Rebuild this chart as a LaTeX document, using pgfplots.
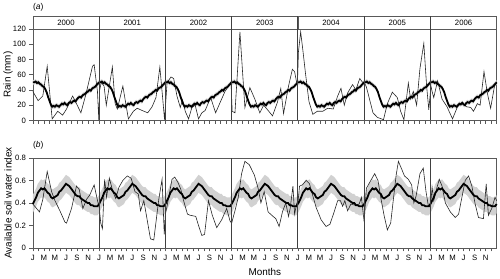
\documentclass[border=0pt]{standalone}
\usepackage{pgfplots}
\pgfplotsset{compat=1.18}
\usepackage{pgfplotstable}
\usepgfplotslibrary{fillbetween}
\usepackage{fontspec}
\setmainfont{Liberation Sans}

\pgfplotstableread{
m v lo hi
0.0 50 47 53
0.25 50 47 53
0.5 51 48 54
0.75 49 46 52
1.0 50 47 53
1.25 48 45 51
1.5 47 44 50
1.75 45 42 48
2.0 44 41 47
2.25 41 38 44
2.5 37 34 40
2.75 31 28 34
3.0 26 23 29
3.25 21 18 24
3.5 18 15 21
3.75 19 16 22
4.0 18 15 21
4.25 20 17 23
4.5 19 16 22
4.75 18 15 21
5.0 20 17 23
5.25 22 19 25
5.5 21 18 24
5.75 23 20 26
6.0 21 18 24
6.25 20 17 23
6.5 23 20 26
6.75 24 21 27
7.0 23 20 26
7.25 25 22 28
7.5 26 23 29
7.75 25 22 28
8.0 28 25 31
8.25 30 27 33
8.5 31 28 34
8.75 30 27 33
9.0 33 30 36
9.25 34 31 37
9.5 35 32 38
9.75 37 34 40
10.0 38 35 41
10.25 40 37 43
10.5 39 36 42
10.75 42 39 45
11.0 43 40 46
11.25 44 41 47
11.5 46 43 49
11.75 48 45 51
12.0 50 47 53
}\rainclim

\pgfplotstableread{
m v lo hi
0.0 0.39 0.31 0.47
0.3 0.42 0.34 0.50
0.6 0.45 0.37 0.53
0.9 0.49 0.41 0.57
1.2 0.51 0.43 0.59
1.5 0.53 0.45 0.61
1.8 0.52 0.44 0.60
2.1 0.53 0.45 0.61
2.4 0.51 0.43 0.59
2.7 0.49 0.41 0.57
3.0 0.48 0.40 0.56
3.3 0.45 0.37 0.53
3.6 0.44 0.36 0.52
3.9 0.45 0.37 0.53
4.2 0.46 0.38 0.54
4.5 0.47 0.39 0.55
4.8 0.50 0.42 0.58
5.1 0.51 0.43 0.59
5.4 0.53 0.45 0.61
5.7 0.55 0.47 0.63
6.0 0.57 0.49 0.65
6.3 0.56 0.48 0.64
6.6 0.55 0.47 0.63
6.9 0.53 0.45 0.61
7.2 0.51 0.43 0.59
7.5 0.49 0.41 0.57
7.8 0.47 0.39 0.55
8.1 0.46 0.38 0.54
8.4 0.46 0.38 0.54
8.7 0.44 0.36 0.52
9.0 0.43 0.35 0.51
9.3 0.42 0.34 0.50
9.6 0.41 0.33 0.49
9.9 0.40 0.32 0.48
10.2 0.40 0.32 0.48
10.5 0.38 0.30 0.46
10.8 0.38 0.30 0.46
11.1 0.37 0.29 0.45
11.4 0.37 0.29 0.45
11.7 0.37 0.29 0.45
12.0 0.39 0.31 0.47
}\soilclim

\definecolor{frame}{gray}{0.35}
\definecolor{band}{gray}{0.82}

\pgfplotsset{
  panel/.style={
    width=466bp, scale only axis, xmin=0, xmax=84, clip=false,
    axis line style={frame, line width=0.6bp},
    tick style={frame, line width=0.6bp},
    tick align=outside, major tick length=3.5bp, minor tick length=3.5bp,
    tick label style={font=\fontsize{7.8}{9}\selectfont, text=black},
    label style={font=\fontsize{8.5}{10}\selectfont},
    every axis y label/.style={at={(axis description cs:-0.0536,0.5)}, rotate=90, anchor=center},
    yticklabel style={/pgf/number format/assume math mode=true},
    xtick pos=bottom, ytick pos=left,
  },
}

\begin{document}
\begin{tikzpicture}
\path (0,0) rectangle (500bp,-277bp);

% ---------------- panel (a) ----------------
\begin{axis}[panel, at={(33bp,-29bp)}, anchor=north west, height=92bp,
  ymin=0, ymax=120, ytick={0,20,...,120}, ylabel={Rain (mm)},
  xtick={0,...,84}, xticklabels={}]
\pgfplotsinvokeforeach{0,...,6}{
  \addplot[name path=rh#1, draw=none, forget plot] table[x expr=\thisrow{m}+12*#1, y=hi]{\rainclim};
  \addplot[name path=rl#1, draw=none, forget plot] table[x expr=\thisrow{m}+12*#1, y=lo]{\rainclim};
  \addplot[band, forget plot] fill between[of=rh#1 and rl#1];
}
\addplot[black!85, line width=0.6bp] coordinates {
(0,38)(0.95,26)(1.8,32)(2.6,71)(3.5,2)(4.5,12)(5.4,7)(6.1,15)(7.2,32)(8.1,19)(8.7,10)(9.6,34)(10.8,71)(11.1,73)(11.7,38)(11.95,0)
(12.1,40)(12.4,50)(12.9,45)(13.3,20)(14.4,70)(14.9,22)(15.3,15)(16.3,45)(17.3,2)(18.2,12)(18.9,16)(19.8,13)(20.8,10)(21.6,18)(22.3,30)(23,70)(23.5,30)(23.85,1)
(24.3,49)(25,57)(25.5,55)(26.1,32)(26.7,17)(27.1,27)(27.6,12)(28.2,2)(28.8,17)(29.4,20)(30,2)(30.6,10)(31.2,13)(32.2,30)(33.1,10)(34.0,25)(34.8,38)(35.5,46)(35.9,48)
(36.1,12)(36.6,10)(37.5,116)(38.4,17)(39.3,43)(40.2,28)(41.1,10)(41.8,20)(42.5,14)(43.4,6)(44.3,24)(44.9,42)(45.4,9)(46.3,45)(47,67)(47.4,64)(47.9,45)
(48.1,90)(48.5,116)(48.9,92)(49.4,60)(50.0,25)(50.7,8)(51.5,12)(52.5,12)(53.4,16)(54.4,15)(55.2,32)(55.8,42)(56.4,20)(57,36)(57.9,47)(58.5,40)(59.2,55)(59.7,50)
(60,50)(60.4,44)(61,27)(61.6,10)(62.4,4)(63.5,1)(64.2,22)(65.1,37)(66,30)(66.6,12)(67.2,1)(68,49)(68.4,28)(68.9,38)(69.5,20)(70.1,68)(70.8,101)(71.3,46)(71.7,14)
(72.1,45)(72.3,38)(72.6,30)(73.3,52)(74.1,28)(75,18)(76,2)(76.9,18)(77.8,24)(78.5,18)(79.3,17)(79.8,12)(80.5,22)(81.0,20)(81.7,64)(82.3,36)(82.9,16)(83.6,45)(84,50)
};
\pgfplotsinvokeforeach{0,...,6}{
  \addplot[black, line width=1.8bp, forget plot] table[x expr=\thisrow{m}+12*#1, y=v]{\rainclim};
  \draw[frame, line width=0.6bp, fill=white] (axis cs:{12*#1},120) rectangle (axis cs:{12*#1+12},137);
  \node[font=\fontsize{7.8}{9}\selectfont] at (axis cs:{12*#1+6},128.5) {200#1};
}
\pgfplotsinvokeforeach{1,...,6}{
  \draw[black!75, line width=0.9bp] (axis cs:{12*#1},0) -- (axis cs:{12*#1},137);
}
\node[anchor=west, font=\fontsize{8.5}{10}\selectfont, inner sep=0pt] at (axis cs:0,148) {(\textit{a})};
\end{axis}

% ---------------- panel (b) ----------------
\begin{axis}[panel, at={(33bp,-158.7bp)}, anchor=north west, height=90.3bp,
  ymin=0, ymax=0.8, ytick={0,0.2,...,0.8}, ylabel={Available soil water index},
  yticklabel style={/pgf/number format/.cd, fixed, precision=1, fixed zerofill=false},
  xtick={0,2,...,82}, minor xtick={1,3,...,83},
  xticklabels={J,M,M,J,S,N,J,M,M,J,S,N,J,M,M,J,S,N,J,M,M,J,S,N,J,M,M,J,S,N,J,M,M,J,S,N,J,M,M,J,S,N},
  xlabel={Months},
  every axis x label/.style={at={(axis description cs:0.5,0)}, anchor=center, yshift=-24bp}]
\pgfplotsinvokeforeach{0,...,6}{
  \addplot[name path=sh#1, draw=none, forget plot] table[x expr=\thisrow{m}+12*#1, y=hi]{\soilclim};
  \addplot[name path=sl#1, draw=none, forget plot] table[x expr=\thisrow{m}+12*#1, y=lo]{\soilclim};
  \addplot[band, forget plot] fill between[of=sh#1 and sl#1];
}
\addplot[black!85, line width=0.6bp] coordinates {
(0,0.39)(1.2,0.32)(1.8,0.43)(2.6,0.68)(3.4,0.50)(4.0,0.42)(4.9,0.33)(5.8,0.23)(6.1,0.22)(7.0,0.35)(7.9,0.55)(8.4,0.52)(9.05,0.35)(9.7,0.43)(10.3,0.47)(11.1,0.56)(11.8,0.40)
(12,0.37)(12.3,0.22)(12.6,0.17)(13.0,0.61)(13.35,0.45)(13.85,0.62)(14.5,0.50)(15.0,0.44)(15.6,0.54)(16.3,0.60)(17.1,0.64)(17.8,0.62)(18.5,0.50)(19.1,0.48)(19.5,0.33)(20.1,0.42)(20.7,0.25)(21.3,0.08)(21.9,0.07)(22.8,0.43)(23.4,0.61)(23.8,0.12)
(24,0.30)(24.3,0.37)(25.2,0.61)(25.7,0.63)(26.3,0.58)(26.8,0.52)(27.3,0.42)(28.0,0.30)(28.5,0.29)(29.5,0.28)(30.0,0.20)(30.6,0.11)(31.1,0.12)(31.8,0.42)(32.5,0.29)(33.3,0.18)(34.2,0.25)(35.1,0.35)(35.7,0.24)
(36,0.22)(36.6,0.33)(37.2,0.45)(37.8,0.66)(38.4,0.77)(39.2,0.74)(40.1,0.65)(40.8,0.53)(41.3,0.40)(41.9,0.50)(42.6,0.32)(43.5,0.28)(44.0,0.26)(44.6,0.19)(45.2,0.32)(45.8,0.40)(46.3,0.28)(46.6,0.35)(47.1,0.55)(47.4,0.30)(47.8,0.40)
(48,0.40)(48.3,0.55)(48.8,0.56)(49.5,0.60)(50.1,0.57)(50.6,0.48)(51.3,0.36)(52.2,0.25)(53.1,0.19)(53.8,0.21)(54.5,0.31)(55.2,0.42)(55.7,0.42)(56.1,0.37)(56.5,0.42)(57.0,0.33)(57.6,0.39)(58.3,0.38)(59.1,0.39)(59.5,0.45)
(60,0.23)(60.4,0.53)(61.2,0.60)(61.9,0.66)(62.5,0.60)(63.0,0.45)(63.6,0.29)(64.2,0.16)(64.8,0.22)(65.4,0.48)(65.8,0.65)(66.2,0.77)(66.8,0.70)(67.3,0.64)(68.0,0.61)(68.6,0.56)(69.0,0.40)(69.4,0.46)(70.1,0.66)(70.7,0.71)(71.2,0.50)(71.6,0.38)
(72,0.36)(72.3,0.54)(72.6,0.42)(73.2,0.54)(73.6,0.61)(74.1,0.55)(74.7,0.40)(75.6,0.32)(76.5,0.27)(77.1,0.30)(77.7,0.45)(78.3,0.60)(78.9,0.64)(79.5,0.55)(80.1,0.39)(80.7,0.27)(81.6,0.26)(82.1,0.57)(82.5,0.29)(83.1,0.35)(83.7,0.45)(84,0.42)
};
\pgfplotsinvokeforeach{0,...,6}{
  \addplot[black, line width=1.8bp, forget plot] table[x expr=\thisrow{m}+12*#1, y=v]{\soilclim};
}
\pgfplotsinvokeforeach{1,...,6}{
  \draw[black!75, line width=0.9bp] (axis cs:{12*#1},0) -- (axis cs:{12*#1},0.8);
}
\node[anchor=west, font=\fontsize{8.5}{10}\selectfont, inner sep=0pt] at (axis cs:0,0.915) {(\textit{b})};
\end{axis}
\end{tikzpicture}
\end{document}
